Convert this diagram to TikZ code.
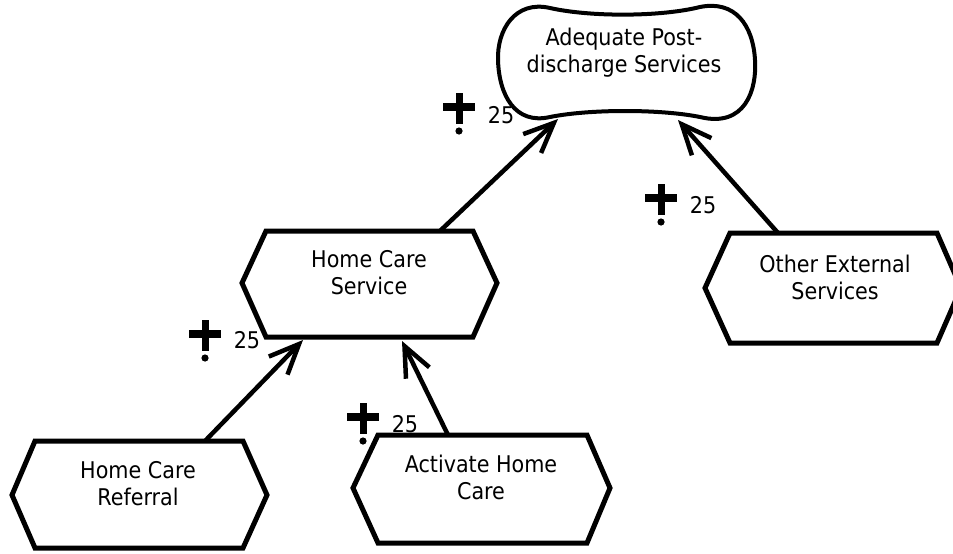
\documentclass[tikz,border=0pt]{standalone}
\usepackage{fontspec}
\setmainfont{DejaVu Sans Condensed}
\usetikzlibrary{arrows.meta}
\begin{document}
\begin{tikzpicture}[x=1pt,y=-1pt,
  hexa/.style={draw=black,fill=white,line width=5pt,line join=miter},
  goal/.style={draw=black,fill=white,line width=4pt},
  lbl/.style={font=\fontsize{23}{27}\selectfont,align=center,inner sep=0pt,anchor=north,text=black},
  num/.style={font=\fontsize{23}{27}\selectfont,inner sep=0pt,anchor=base,text=black},
  contrib/.style={draw=black,line width=4.5pt,-{Straight Barb[length=30pt,width=26pt]}},
  pics/plusmark/.style={code={
    \fill[black] (-16,-4) rectangle (16,4);
    \fill[black] (-3.5,-14) rectangle (3.5,17);
    \fill[black] (0,24) circle (3.6);
  }}
]
\useasboundingbox (0,0) rectangle (953,554);
\clip (0,0) rectangle (953,554);
\fill[white] (0,0) rectangle (953,554);

% softgoal
\draw[goal] (550,117) .. controls (590,109) and (660,109) .. (700,117)
  .. controls (745,128) and (757,90) .. (755,60)
  .. controls (753,25) and (735,0) .. (700,7)
  .. controls (660,17) and (590,17) .. (550,8)
  .. controls (515,0) and (497,30) .. (498,60)
  .. controls (499,95) and (515,125) .. (550,117) -- cycle;
\node[lbl] (sg) at (624,25) {\rule{0pt}{20pt}Adequate Post-\\discharge Services};

% tasks
\draw[hexa] (242,283) -- (266,231) -- (473,231) -- (497,283) -- (473,337) -- (266,337) -- cycle;
\node[lbl] (hcs) at (369,247) {\rule{0pt}{20pt}Home Care\\Service};

\draw[hexa] (705,288) -- (730,233) -- (937,233) -- (961,288) -- (937,343) -- (730,343) -- cycle;
\node[lbl] (oes) at (835,252) {\rule{0pt}{20pt}Other External\\Services};

\draw[hexa] (12,495) -- (35,441) -- (243,441) -- (267,495) -- (243,548) -- (35,548) -- cycle;
\node[lbl] (hcr) at (138,458) {\rule{0pt}{20pt}Home Care\\Referral};

\draw[hexa] (353,488) -- (378,435) -- (587,435) -- (610,488) -- (587,543) -- (378,543) -- cycle;
\node[lbl] (ahc) at (481,452) {\rule{0pt}{20pt}Activate Home\\Care};

% connector end points
\coordinate (hcsTop) at (440,231);
\coordinate (sgIn1) at (558,119);
\coordinate (oesTop) at (778,233);
\coordinate (sgIn2) at (678,120);
\coordinate (hcrTop) at (205,441);
\coordinate (hcsIn1) at (303,340);
\coordinate (ahcTop) at (448,435);
\coordinate (hcsIn2) at (402,341);

\draw[contrib] (hcsTop) -- (sgIn1);
\draw[contrib] (oesTop) -- (sgIn2);
\draw[contrib] (hcrTop) -- (hcsIn1);
\draw[contrib] (ahcTop) -- (hcsIn2);

% contribution marks
\pic at (459,107) {plusmark};
\node[num] (n1) at (501,123) {25};
\pic at (661,198) {plusmark};
\node[num] (n2) at (703,213) {25};
\pic at (205,334) {plusmark};
\node[num] (n3) at (247,348) {25};
\pic at (363,417) {plusmark};
\node[num] (n4) at (405,432) {25};
\end{tikzpicture}
\end{document}
